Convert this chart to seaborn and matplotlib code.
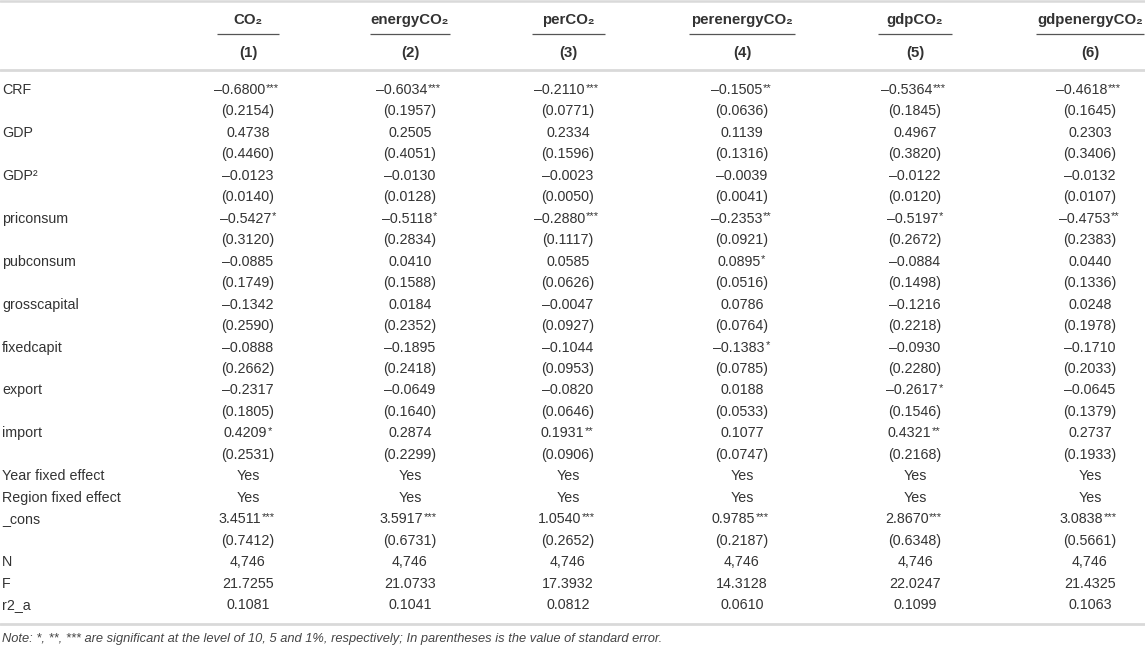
import matplotlib
matplotlib.use("Agg")
import matplotlib.pyplot as plt
import seaborn as sns
import pandas as pd

# ---------------- data ----------------
models = ["CO\u2082", "energyCO\u2082", "perCO\u2082", "perenergyCO\u2082", "gdpCO\u2082", "gdpenergyCO\u2082"]
model_nums = ["(1)", "(2)", "(3)", "(4)", "(5)", "(6)"]

coef_CRF = ["\u20130.6800***", "\u20130.6034***", "\u20130.2110***", "\u20130.1505**", "\u20130.5364***", "\u20130.4618***"]
se_CRF = ["(0.2154)", "(0.1957)", "(0.0771)", "(0.0636)", "(0.1845)", "(0.1645)"]
coef_GDP = ["0.4738", "0.2505", "0.2334", "0.1139", "0.4967", "0.2303"]
se_GDP = ["(0.4460)", "(0.4051)", "(0.1596)", "(0.1316)", "(0.3820)", "(0.3406)"]
coef_GDP2 = ["\u20130.0123", "\u20130.0130", "\u20130.0023", "\u20130.0039", "\u20130.0122", "\u20130.0132"]
se_GDP2 = ["(0.0140)", "(0.0128)", "(0.0050)", "(0.0041)", "(0.0120)", "(0.0107)"]
coef_priconsum = ["\u20130.5427*", "\u20130.5118*", "\u20130.2880***", "\u20130.2353**", "\u20130.5197*", "\u20130.4753**"]
se_priconsum = ["(0.3120)", "(0.2834)", "(0.1117)", "(0.0921)", "(0.2672)", "(0.2383)"]
coef_pubconsum = ["\u20130.0885", "0.0410", "0.0585", "0.0895*", "\u20130.0884", "0.0440"]
se_pubconsum = ["(0.1749)", "(0.1588)", "(0.0626)", "(0.0516)", "(0.1498)", "(0.1336)"]
coef_grosscapital = ["\u20130.1342", "0.0184", "\u20130.0047", "0.0786", "\u20130.1216", "0.0248"]
se_grosscapital = ["(0.2590)", "(0.2352)", "(0.0927)", "(0.0764)", "(0.2218)", "(0.1978)"]
coef_fixedcapit = ["\u20130.0888", "\u20130.1895", "\u20130.1044", "\u20130.1383*", "\u20130.0930", "\u20130.1710"]
se_fixedcapit = ["(0.2662)", "(0.2418)", "(0.0953)", "(0.0785)", "(0.2280)", "(0.2033)"]
coef_export = ["\u20130.2317", "\u20130.0649", "\u20130.0820", "0.0188", "\u20130.2617*", "\u20130.0645"]
se_export = ["(0.1805)", "(0.1640)", "(0.0646)", "(0.0533)", "(0.1546)", "(0.1379)"]
coef_import = ["0.4209*", "0.2874", "0.1931**", "0.1077", "0.4321**", "0.2737"]
se_import = ["(0.2531)", "(0.2299)", "(0.0906)", "(0.0747)", "(0.2168)", "(0.1933)"]
year_fe = ["Yes"] * 6
region_fe = ["Yes"] * 6
coef_cons = ["3.4511***", "3.5917***", "1.0540***", "0.9785***", "2.8670***", "3.0838***"]
se_cons = ["(0.7412)", "(0.6731)", "(0.2652)", "(0.2187)", "(0.6348)", "(0.5661)"]
n_obs = ["4,746"] * 6
f_stat = ["21.7255", "21.0733", "17.3932", "14.3128", "22.0247", "21.4325"]
r2_a = ["0.1081", "0.1041", "0.0812", "0.0610", "0.1099", "0.1063"]

row_labels = ["CRF", "", "GDP", "", "GDP\u00b2", "", "priconsum", "", "pubconsum", "",
              "grosscapital", "", "fixedcapit", "", "export", "", "import", "",
              "Year fixed effect", "Region fixed effect", "_cons", "", "N", "F", "r2_a"]
row_cells = [coef_CRF, se_CRF, coef_GDP, se_GDP, coef_GDP2, se_GDP2,
             coef_priconsum, se_priconsum, coef_pubconsum, se_pubconsum,
             coef_grosscapital, se_grosscapital, coef_fixedcapit, se_fixedcapit,
             coef_export, se_export, coef_import, se_import,
             year_fe, region_fe, coef_cons, se_cons, n_obs, f_stat, r2_a]

note = ("Note: *, **, *** are significant at the level of 10, 5 and 1%, respectively; "
        "In parentheses is the value of standard error.")

table = pd.DataFrame(row_cells, columns=models)
table.insert(0, "label", row_labels)

# ---------------- layout ----------------
sns.set_theme(style="white")
FAM = ["Liberation Sans", "DejaVu Sans"]
plt.rcParams["font.family"] = FAM
FS = 10.3
FS_HEAD = 10.8
TXT = "#333333"
col_x = [248, 410, 568, 742, 915, 1090]
ul_half = [31, 40, 36.5, 53, 37, 54]
label_x = 2

fig = plt.figure(figsize=(11.45, 6.49), dpi=100)
ax = fig.add_axes([0, 0, 1, 1])
ax.set_xlim(0, 1145)
ax.set_ylim(26.05, -4.194)
ax.axis("off")

# header
for j, (m, num) in enumerate(zip(models, model_nums)):
    ax.text(col_x[j], -3.27, m, ha="center", va="center", fontsize=FS_HEAD,
            fontweight="bold", color=TXT)
    ax.text(col_x[j], -1.72, num, ha="center", va="center", fontsize=FS_HEAD,
            fontweight="bold", color=TXT)
    ax.plot([col_x[j] - ul_half[j], col_x[j] + ul_half[j]], [-2.61, -2.61],
            color="#555555", lw=0.9, solid_capstyle="butt")

# rules
ax.axhline(-4.15, color="#d9d9d9", lw=1.8)
ax.axhline(-0.93, color="#d9d9d9", lw=2.0)
ax.axhline(24.88, color="#d9d9d9", lw=2.0)

# body
for r, row in table.iterrows():
    ax.text(label_x, r, row["label"], ha="left", va="center", fontsize=FS, color=TXT)
    for j, m in enumerate(models):
        s = row[m]
        base = s.rstrip("*")
        nstar = len(s) - len(base)
        t = ax.annotate(base, xy=(col_x[j], r), xytext=(-nstar * 2.0, 0),
                        textcoords="offset points", ha="center", va="center",
                        fontsize=FS, color=TXT)
        if nstar:
            ax.annotate("*" * nstar, xy=(1, 1), xycoords=t, xytext=(0.3, 0.3),
                        textcoords="offset points", ha="left", va="top",
                        fontsize=8.0, color=TXT)

ax.text(label_x, 25.6, note, ha="left", va="center", fontsize=9.3,
        style="italic", color="#444444")

fig.savefig("out.png", dpi=100)
